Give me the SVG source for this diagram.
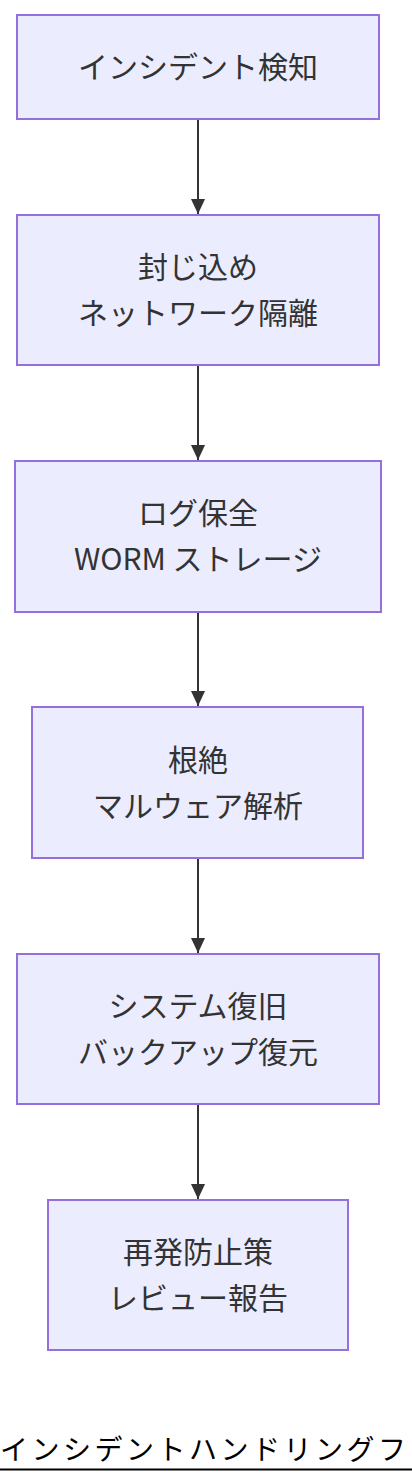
<svg xmlns="http://www.w3.org/2000/svg" width="412" height="1484" viewBox="0 0 412 1484">
<style>
.node rect{fill:#ECECFF;stroke:#9370DB;stroke-width:2}
.node text{font-family:"Noto Sans CJK JP","Noto Sans",sans-serif;font-size:30px;fill:#333;text-anchor:middle}
.edge{stroke:#333;stroke-width:2;fill:none}
.title{font-family:"Noto Sans CJK JP","Noto Sans",sans-serif;font-size:28px;letter-spacing:3.5px;fill:#000}
</style>
<defs>
<marker id="arrow" viewBox="0 0 16 15" refX="16" refY="7.5" markerWidth="15" markerHeight="15" markerUnits="userSpaceOnUse" orient="auto">
<path d="M0,0 L16,7.5 L0,15 z" fill="#333"/>
</marker>
</defs>
<rect width="412" height="1484" fill="#fff"/>
<g id="connectors">
<line class="edge" x1="198" y1="119" x2="198" y2="214" marker-end="url(#arrow)"/>
<line class="edge" x1="198" y1="365" x2="198" y2="460" marker-end="url(#arrow)"/>
<line class="edge" x1="198" y1="612" x2="198" y2="706" marker-end="url(#arrow)"/>
<line class="edge" x1="198" y1="858" x2="198" y2="953" marker-end="url(#arrow)"/>
<line class="edge" x1="198" y1="1104" x2="198" y2="1199" marker-end="url(#arrow)"/>
</g>
<g id="detect" class="node">
<rect x="17" y="15" width="362" height="104"/>
<text x="198" y="78">インシデント検知</text>
</g>
<g id="contain" class="node">
<rect x="17" y="215" width="362" height="150"/>
<text x="198" y="278">封じ込め</text>
<text x="198" y="324">ネットワーク隔離</text>
</g>
<g id="preserve" class="node">
<rect x="15" y="461" width="366" height="151"/>
<text x="198" y="524">ログ保全</text>
<text x="198" y="570">WORM ストレージ</text>
</g>
<g id="eradicate" class="node">
<rect x="32" y="707" width="331" height="151"/>
<text x="198" y="771">根絶</text>
<text x="198" y="817">マルウェア解析</text>
</g>
<g id="recover" class="node">
<rect x="17" y="954" width="362" height="150"/>
<text x="198" y="1017">システム復旧</text>
<text x="198" y="1063">バックアップ復元</text>
</g>
<g id="lessons" class="node">
<rect x="48" y="1200" width="300" height="150"/>
<text x="198" y="1263">再発防止策</text>
<text x="198" y="1309">レビュー報告</text>
</g>
<g id="title">
<text class="title" x="0" y="1460">インシデントハンドリングフ</text>
<line x1="0" y1="1469.5" x2="412" y2="1469.5" stroke="#000" stroke-width="2"/>
</g>
</svg>
